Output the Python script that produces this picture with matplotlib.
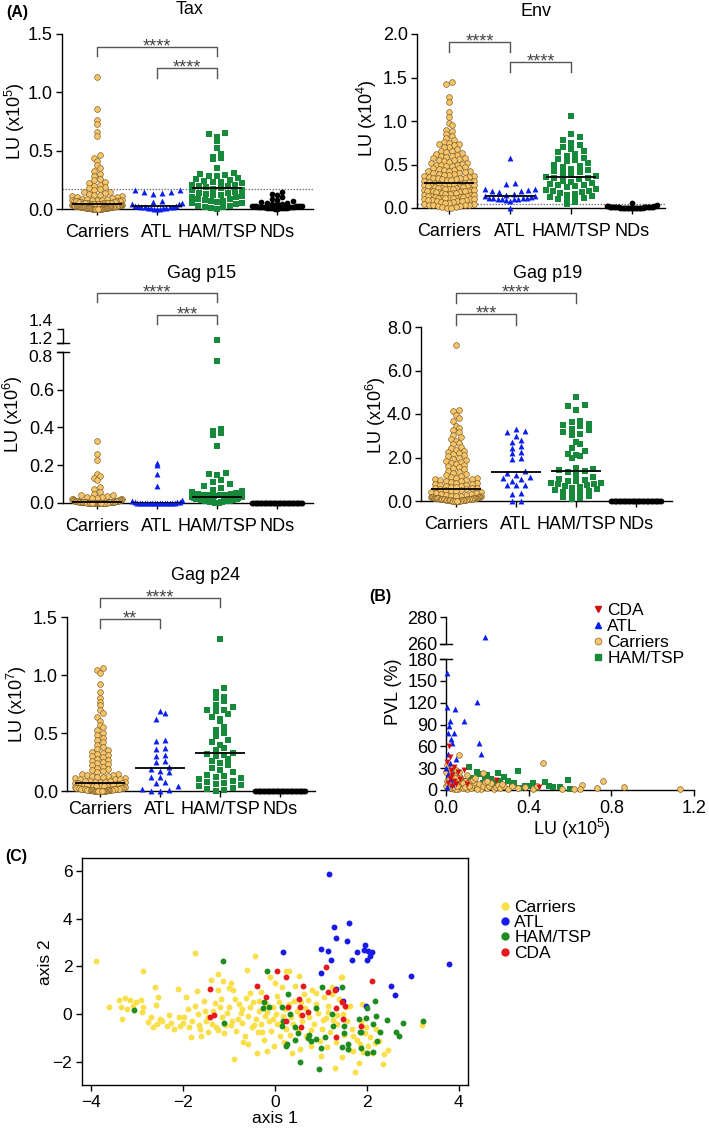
import numpy as np
import matplotlib
matplotlib.use('Agg')
import matplotlib.pyplot as plt
from matplotlib.transforms import Affine2D, blended_transform_factory
from matplotlib.lines import Line2D

W, H = 709, 1133
plt.rcParams['font.family'] = ['Liberation Sans', 'DejaVu Sans']
plt.rcParams['mathtext.fontset'] = 'custom'
plt.rcParams['mathtext.rm'] = 'Liberation Sans'
plt.rcParams['mathtext.it'] = 'Liberation Sans:italic'
plt.rcParams['axes.linewidth'] = 1.0
plt.rcParams['xtick.major.width'] = 1.0
plt.rcParams['ytick.major.width'] = 1.0
plt.rcParams['xtick.major.size'] = 4
plt.rcParams['ytick.major.size'] = 4

# ------------------------------------------------------------------ data
groups = ['Carriers', 'ATL', 'HAM/TSP', 'NDs']

tax_carriers = [1.13, 0.86, 0.76, 0.73, 0.66, 0.63, 0.46, 0.44, 0.41, 0.38, 0.35, 0.33, 0.30, 0.28, 0.26,
                0.25, 0.23, 0.22, 0.21, 0.20, 0.19, 0.18, 0.17, 0.16, 0.15, 0.15, 0.14, 0.13, 0.12, 0.12,
                0.11, 0.11, 0.10, 0.10, 0.095, 0.09, 0.09, 0.085, 0.08, 0.08, 0.08, 0.075, 0.075, 0.07,
                0.07, 0.07, 0.065, 0.065, 0.065, 0.06, 0.06, 0.06, 0.06, 0.055, 0.055, 0.055, 0.05, 0.05,
                0.05, 0.05, 0.05, 0.048, 0.046, 0.045, 0.044, 0.042, 0.04, 0.04, 0.04, 0.038, 0.037, 0.036,
                0.035, 0.035, 0.034, 0.033, 0.032, 0.031, 0.03, 0.03, 0.03, 0.029, 0.028, 0.027, 0.026,
                0.025, 0.025, 0.025, 0.024, 0.023, 0.022, 0.021, 0.02, 0.02, 0.02, 0.02, 0.019, 0.018,
                0.017, 0.016, 0.015, 0.015, 0.015, 0.014, 0.013, 0.012, 0.012, 0.011, 0.01, 0.01, 0.01,
                0.01, 0.009, 0.008, 0.008, 0.007, 0.006, 0.006, 0.005, 0.005, 0.005, 0.004, 0.004, 0.003,
                0.003, 0.002, 0.002, 0.002, 0.001, 0.001, 0.001, 0.0, 0.0, 0.0]
tax_atl = [0.16, 0.16, 0.15, 0.15, 0.14, 0.13, 0.07, 0.06, 0.05, 0.04, 0.04, 0.03, 0.03, 0.03, 0.02,
           0.02, 0.02, 0.02, 0.01, 0.01, 0.01, 0.01, 0.0, 0.0, 0.0]
tax_ham = [0.65, 0.64, 0.62, 0.58, 0.52, 0.47, 0.45, 0.44, 0.43, 0.35, 0.31, 0.30, 0.29, 0.28, 0.28,
           0.27, 0.26, 0.25, 0.24, 0.23, 0.23, 0.22, 0.21, 0.21, 0.20, 0.20, 0.19, 0.18, 0.17, 0.16,
           0.16, 0.15, 0.14, 0.14, 0.13, 0.12, 0.12, 0.11, 0.10, 0.10, 0.09, 0.09, 0.08, 0.07, 0.07,
           0.06, 0.05, 0.05, 0.04, 0.03, 0.03, 0.02, 0.02, 0.01, 0.0]
tax_nds = [0.15, 0.13, 0.12, 0.1, 0.09, 0.08, 0.07, 0.06, 0.05, 0.05, 0.04, 0.04, 0.04, 0.03, 0.03,
           0.03, 0.03, 0.03, 0.025, 0.025, 0.02, 0.02, 0.02, 0.02, 0.02, 0.02, 0.015, 0.015, 0.015,
           0.01, 0.01, 0.01, 0.01, 0.01, 0.01, 0.005, 0.005, 0.005, 0.0, 0.0]
tax_cutoff = 0.17

env_carriers = [1.45, 1.43, 1.28, 1.22, 1.1, 1.05, 0.98, 0.95, 0.9, 0.88, 0.85, 0.83, 0.8, 0.78, 0.76,
                0.75, 0.74, 0.73, 0.72, 0.7, 0.7, 0.68, 0.66, 0.65, 0.64, 0.63, 0.62, 0.61, 0.6, 0.6,
                0.59, 0.58, 0.57, 0.56, 0.55, 0.55, 0.54, 0.53, 0.52, 0.52, 0.51, 0.5, 0.5, 0.49, 0.48,
                0.48, 0.47, 0.46, 0.46, 0.45, 0.44, 0.44, 0.43, 0.42, 0.42, 0.41, 0.4, 0.4, 0.39, 0.39,
                0.38, 0.38, 0.37, 0.37, 0.36, 0.36, 0.35, 0.35, 0.34, 0.34, 0.33, 0.33, 0.32, 0.32, 0.31,
                0.31, 0.3, 0.3, 0.29, 0.29, 0.28, 0.28, 0.27, 0.27, 0.27, 0.26, 0.26, 0.26, 0.25, 0.25,
                0.25, 0.24, 0.24, 0.24, 0.23, 0.23, 0.23, 0.22, 0.22, 0.22, 0.21, 0.21, 0.21, 0.2, 0.2,
                0.2, 0.19, 0.19, 0.19, 0.18, 0.18, 0.18, 0.17, 0.17, 0.17, 0.16, 0.16, 0.16, 0.15, 0.15,
                0.15, 0.14, 0.14, 0.14, 0.13, 0.13, 0.13, 0.12, 0.12, 0.12, 0.11, 0.11, 0.11, 0.1, 0.1,
                0.1, 0.09, 0.09, 0.09, 0.08, 0.08, 0.08, 0.07, 0.07, 0.06, 0.06, 0.05, 0.05, 0.04, 0.04,
                0.03, 0.03, 0.02, 0.02, 0.01, 0.01, 0.0, 0.0]
env_atl = [0.58, 0.29, 0.28, 0.22, 0.22, 0.21, 0.2, 0.2, 0.18, 0.16, 0.15, 0.14, 0.14, 0.13, 0.12,
           0.12, 0.11, 0.11, 0.1, 0.1, 0.1, 0.1, 0.09, 0.08, 0.0]
env_ham = [1.06, 0.85, 0.82, 0.78, 0.75, 0.72, 0.7, 0.68, 0.66, 0.64, 0.62, 0.6, 0.58, 0.56, 0.55,
           0.54, 0.52, 0.5, 0.48, 0.47, 0.45, 0.44, 0.42, 0.41, 0.4, 0.38, 0.37, 0.36, 0.35, 0.34,
           0.33, 0.31, 0.3, 0.29, 0.28, 0.27, 0.26, 0.25, 0.24, 0.22, 0.21, 0.2, 0.19, 0.18, 0.17,
           0.16, 0.15, 0.14, 0.13, 0.12, 0.1, 0.09, 0.08, 0.07, 0.05]
env_nds = [0.06, 0.03, 0.025, 0.02, 0.02, 0.018, 0.016, 0.015, 0.014, 0.012, 0.012, 0.011, 0.01, 0.01,
           0.01, 0.009, 0.008, 0.008, 0.007, 0.007, 0.006, 0.006, 0.005, 0.005, 0.005, 0.004, 0.004,
           0.003, 0.003, 0.003, 0.002, 0.002, 0.002, 0.001, 0.001, 0.001, 0.0, 0.0, 0.0, 0.0]
env_cutoff = 0.046

p15_carriers = [0.33, 0.26, 0.23, 0.155, 0.145, 0.13, 0.12, 0.085, 0.075, 0.06, 0.05, 0.045, 0.04,
                0.035, 0.03, 0.03, 0.025, 0.025, 0.02, 0.02, 0.02, 0.02, 0.018, 0.016, 0.015, 0.015,
                0.014, 0.012, 0.012, 0.011, 0.01, 0.01, 0.01, 0.01, 0.009, 0.009, 0.008, 0.008, 0.008,
                0.007, 0.007, 0.007, 0.006, 0.006, 0.006, 0.006, 0.005, 0.005, 0.005, 0.005, 0.005,
                0.004, 0.004, 0.004, 0.004, 0.004, 0.003, 0.003, 0.003, 0.003, 0.003, 0.003, 0.002,
                0.002, 0.002, 0.002, 0.002, 0.002, 0.002, 0.001, 0.001, 0.001, 0.001, 0.001, 0.001,
                0.001, 0.001, 0, 0, 0, 0, 0, 0, 0, 0, 0, 0, 0, 0, 0]
p15_atl = [0.21, 0.2, 0.155, 0.09, 0.015, 0.012, 0.005, 0.004, 0.003, 0.002, 0.002, 0.001, 0.001,
           0.001, 0, 0, 0, 0, 0, 0, 0, 0, 0, 0, 0]
p15_ham = [1.25, 0.75, 0.39, 0.38, 0.37, 0.36, 0.3, 0.16, 0.155, 0.15, 0.12, 0.11, 0.1, 0.09, 0.08,
           0.07, 0.065, 0.06, 0.055, 0.05, 0.05, 0.045, 0.04, 0.04, 0.04, 0.035, 0.03, 0.03, 0.03,
           0.025, 0.025, 0.02, 0.02, 0.02, 0.02, 0.02, 0.018, 0.016, 0.015, 0.015, 0.012, 0.012,
           0.01, 0.01, 0.01, 0.008, 0.008, 0.006, 0.005, 0.005, 0.004, 0.003, 0.002, 0.001, 0.0]
p15_nds = [0, 0, 0, 0, 0, 0, 0, 0, 0, 0, 0, 0, 0, 0, 0, 0, 0, 0, 0, 0,
           0, 0, 0, 0, 0, 0, 0, 0, 0, 0, 0, 0, 0, 0, 0, 0, 0, 0, 0, 0]

p19_carriers = [7.15, 4.2, 4.15, 3.95, 3.8, 3.7, 3.45, 3.35, 3.25, 3.15, 3.05, 2.95, 2.85, 2.75, 2.65,
                2.6, 2.5, 2.45, 2.35, 2.3, 2.25, 2.2, 2.15, 2.1, 2.05, 2.0, 1.95, 1.9, 1.85, 1.8, 1.75,
                1.7, 1.65, 1.6, 1.55, 1.5, 1.45, 1.4, 1.35, 1.3, 1.25, 1.2, 1.15, 1.1, 1.08, 1.05, 1.02,
                1.0, 0.98, 0.95, 0.92, 0.9, 0.88, 0.85, 0.82, 0.8, 0.78, 0.75, 0.72, 0.7, 0.68, 0.66,
                0.64, 0.62, 0.6, 0.58, 0.56, 0.55, 0.52, 0.5, 0.48, 0.45, 0.42, 0.4, 0.38, 0.35, 0.33,
                0.3, 0.28, 0.26, 0.25, 0.24, 0.22, 0.21, 0.2, 0.2, 0.19, 0.18, 0.18, 0.17, 0.16, 0.16,
                0.15, 0.15, 0.14, 0.14, 0.13, 0.13, 0.12, 0.12, 0.12, 0.11, 0.11, 0.1, 0.1, 0.1, 0.09,
                0.09, 0.09, 0.08, 0.08, 0.08, 0.07, 0.07, 0.07, 0.06, 0.06, 0.06, 0.05, 0.05, 0.05,
                0.04, 0.04, 0.04, 0.03, 0.03, 0.03, 0.02, 0.02, 0.02, 0.01, 0.01, 0.01, 0.0, 0.0, 0.0]
p19_atl = [3.3, 3.2, 3.15, 3.0, 2.8, 2.7, 2.55, 2.45, 2.25, 2.2, 2.0, 1.95, 1.4, 1.3, 1.2, 1.1, 1.05,
           1.0, 0.9, 0.75, 0.75, 0.72, 0.35, 0.3, 0.0, 0.0]
p19_ham = [4.8, 4.4, 4.35, 4.2, 3.7, 3.65, 3.55, 3.5, 3.45, 3.3, 3.25, 3.15, 3.1, 3.05, 2.7, 2.6, 2.45,
           2.3, 2.15, 2.1, 2.05, 2.0, 1.5, 1.45, 1.42, 1.4, 1.35, 1.2, 1.1, 1.0, 0.95, 0.9, 0.9, 0.85,
           0.85, 0.8, 0.8, 0.75, 0.7, 0.65, 0.6, 0.55, 0.5, 0.45, 0.4, 0.35, 0.3, 0.25, 0.2, 0.15, 0.1]
p19_nds = [0, 0, 0, 0, 0, 0, 0, 0, 0, 0, 0, 0, 0, 0, 0, 0, 0, 0, 0, 0,
           0, 0, 0, 0, 0, 0, 0, 0, 0, 0, 0, 0, 0, 0, 0, 0, 0, 0, 0, 0]

p24_carriers = [1.06, 1.04, 1.02, 0.92, 0.85, 0.8, 0.77, 0.74, 0.7, 0.67, 0.64, 0.6, 0.57, 0.55, 0.53,
                0.5, 0.48, 0.46, 0.44, 0.42, 0.4, 0.38, 0.36, 0.35, 0.34, 0.33, 0.32, 0.31, 0.3, 0.29,
                0.28, 0.27, 0.26, 0.25, 0.24, 0.23, 0.22, 0.21, 0.2, 0.19, 0.18, 0.17, 0.16, 0.15, 0.15,
                0.14, 0.14, 0.13, 0.13, 0.12, 0.12, 0.11, 0.11, 0.1, 0.1, 0.1, 0.09, 0.09, 0.09, 0.08,
                0.08, 0.08, 0.075, 0.07, 0.07, 0.065, 0.06, 0.06, 0.06, 0.055, 0.05, 0.05, 0.05, 0.05,
                0.045, 0.045, 0.04, 0.04, 0.04, 0.04, 0.035, 0.035, 0.035, 0.03, 0.03, 0.03, 0.03, 0.03,
                0.025, 0.025, 0.025, 0.025, 0.02, 0.02, 0.02, 0.02, 0.02, 0.02, 0.015, 0.015, 0.015,
                0.015, 0.015, 0.01, 0.01, 0.01, 0.01, 0.01, 0.01, 0.01, 0.008, 0.008, 0.006, 0.006,
                0.005, 0.005, 0.004, 0.004, 0.003, 0.003, 0.002, 0.002, 0.001, 0.001, 0.0, 0.0, 0.0, 0.0]
p24_atl = [0.69, 0.67, 0.62, 0.44, 0.43, 0.37, 0.36, 0.31, 0.3, 0.26, 0.25, 0.21, 0.19, 0.17, 0.16,
           0.12, 0.12, 0.08, 0.07, 0.04, 0.02, 0.01, 0.0, 0.0]
p24_ham = [1.31, 0.89, 0.85, 0.81, 0.8, 0.78, 0.74, 0.72, 0.7, 0.7, 0.69, 0.66, 0.64, 0.62, 0.6, 0.55,
           0.53, 0.5, 0.47, 0.44, 0.42, 0.4, 0.37, 0.35, 0.33, 0.32, 0.31, 0.3, 0.28, 0.26, 0.24, 0.22,
           0.2, 0.18, 0.16, 0.14, 0.13, 0.12, 0.11, 0.1, 0.09, 0.08, 0.07, 0.06, 0.05, 0.04, 0.03,
           0.02, 0.01, 0.0]
p24_nds = [0, 0, 0, 0, 0, 0, 0, 0, 0, 0, 0, 0, 0, 0, 0, 0, 0, 0, 0, 0,
           0, 0, 0, 0, 0, 0, 0, 0, 0, 0, 0, 0, 0, 0, 0, 0, 0, 0, 0, 0]

# Panel B: (LU x1e5, PVL %)
b_cda = [(0.015, 60), (0.02, 45), (0.04, 32), (0.06, 25), (0.085, 27), (0.03, 21), (0.02, 16),
         (0.04, 12), (0.05, 8), (0.24, 14), (0.45, 4), (0.01, 10), (0.03, 5), (0.07, 15), (0.1, 8),
         (0.005, 38), (0.025, 28)]
b_atl = [(0.19, 265), (0.005, 161), (0.005, 114), (0.043, 111), (0.02, 95), (0.087, 95), (0.15, 121),
         (0.01, 78), (0.04, 78), (0.03, 64), (0.16, 64), (0.17, 50), (0.01, 50), (0.02, 37), (0.0, 30),
         (0.01, 22), (0.02, 15), (0.03, 8), (0.005, 4), (0.05, 42), (0.015, 88), (0.025, 70)]
b_carriers = [(0.47, 37), (0.065, 48), (0.18, 23), (0.76, 12), (0.86, 4), (1.13, 1), (0.66, 7),
              (0.65, 1.5), (0.73, 3), (0.62, 2), (0.0, 25), (0.005, 12), (0.01, 30), (0.01, 5),
              (0.015, 18), (0.02, 8), (0.02, 22), (0.025, 3), (0.03, 15), (0.03, 10), (0.035, 6),
              (0.04, 20), (0.04, 2), (0.045, 12), (0.05, 28), (0.05, 4), (0.055, 9), (0.06, 15),
              (0.06, 1), (0.07, 18), (0.07, 6), (0.075, 11), (0.08, 3), (0.085, 8), (0.09, 13),
              (0.1, 2), (0.1, 9), (0.11, 5), (0.12, 12), (0.12, 3), (0.13, 7), (0.14, 10), (0.15, 4),
              (0.16, 8), (0.17, 2), (0.18, 5), (0.19, 11), (0.2, 3), (0.21, 6), (0.22, 9), (0.23, 2),
              (0.24, 4), (0.25, 7), (0.26, 3), (0.28, 5), (0.3, 2), (0.32, 6), (0.35, 3), (0.38, 4),
              (0.42, 2), (0.0, 5), (0.01, 8), (0.02, 3), (0.03, 12), (0.04, 7), (0.05, 2), (0.06, 16),
              (0.08, 10), (0.09, 4), (0.11, 6), (0.13, 14), (0.15, 2), (0.005, 35), (0.015, 14),
              (0.025, 9), (0.035, 4), (0.045, 17), (0.055, 6), (0.065, 25), (0.1, 20), (0.14, 16),
              (0.2, 13), (0.27, 8), (0.44, 5), (0.56, 2)]
b_ham = [(0.11, 32), (0.25, 23), (0.35, 26), (0.48, 11), (0.59, 14), (0.52, 4), (0.40, 6), (0.2, 20),
         (0.22, 15), (0.28, 18), (0.3, 12), (0.15, 25), (0.18, 10), (0.12, 16), (0.1, 8), (0.08, 12),
         (0.06, 20), (0.05, 5), (0.04, 14), (0.14, 7), (0.16, 22), (0.24, 9), (0.26, 13), (0.32, 8),
         (0.38, 5), (0.42, 10), (0.44, 3), (0.5, 6), (0.55, 4), (0.6, 2), (0.02, 18), (0.03, 25),
         (0.07, 10), (0.09, 5), (0.13, 12), (0.19, 17), (0.21, 6), (0.27, 4), (0.33, 9), (0.36, 3)]

# Panel C: (axis 1, axis 2)
c_carriers = [(-3.89, 2.25), (-3.62, 0.29), (-3.40, 0.6), (-3.27, 0.67), (-3.15, 0.6), (-3.35, 0.29),
              (-3.33, -0.2), (-3.22, 0.22), (-3.02, 0.5), (-2.92, 0.6), (-2.88, 1.8), (-2.88, 0.29),
              (-2.76, -0.34), (-2.66, -0.55), (-2.61, 1.13), (-2.54, 0.74), (-2.56, -0.41),
              (-2.46, -0.29), (-2.36, -0.48), (-2.27, -0.38), (-2.12, 1.06), (-2.09, -0.13),
              (-2.07, -0.48), (-1.97, -0.13), (-1.94, 0.71), (-1.87, -0.55), (-1.82, -0.94),
              (-1.75, 2.56), (-1.70, 0.97), (-1.67, 0.01), (-1.63, -0.62), (-1.60, -0.9), (-1.53, 0.15),
              (-1.50, -0.27), (-1.46, -0.76), (-1.40, 1.44), (-1.38, -0.41), (-1.30, 0.46),
              (-1.24, 1.69), (-1.23, 1.02), (-1.23, -0.66), (-1.18, 0.64), (-1.16, -0.1), (-1.13, 1.41),
              (-1.08, -0.43), (-1.0, 0.29), (-0.96, 1.3), (-0.94, -0.27), (-0.91, 1.02), (-0.89, -1.87),
              (-0.84, -0.69), (-0.79, 0.43), (-0.74, 0.04), (-0.71, -0.38), (-0.69, -1.17),
              (-0.64, 0.67), (-0.61, 1.86), (-0.59, -0.06), (-0.59, -1.24), (-0.54, 0.29),
              (-0.51, -0.55), (-0.47, 0.5), (-0.44, 2.42), (-0.41, -0.2), (-0.39, -1.64), (-0.37, -0.76),
              (-0.34, 0.15), (-0.31, 0.92), (-0.30, -0.41), (-0.25, -1.08), (-0.22, -0.06), (-0.20, 0.43),
              (-0.17, -1.52), (-0.12, -0.27), (-0.10, 1.55), (-0.08, -0.69), (-0.05, 0.29), (-0.02, -1.31),
              (0.02, 0.01), (0.05, -0.41), (0.08, 0.5), (0.10, -0.9), (0.15, 1.13), (0.18, -0.06),
              (0.20, -1.17), (0.25, 1.83), (0.25, -0.62), (0.30, 0.43), (0.34, -0.13), (0.37, -1.64),
              (0.39, -0.41), (0.44, 1.2), (0.47, 0.15), (0.49, -0.69), (0.52, 1.62), (0.54, -1.45),
              (0.57, 0.5), (0.59, -0.27), (0.64, 0.85), (0.67, -0.9), (0.72, 0.6), (0.75, -0.13),
              (0.79, -1.31), (0.81, 1.02), (0.84, -0.41), (0.89, 0.43), (0.94, 0.04), (0.97, -1.1),
              (1.0, -1.73), (1.03, -0.62), (1.06, 0.71), (1.10, -0.15), (1.13, -1.38), (1.16, 0.36),
              (1.20, -0.76), (1.23, 0.85), (1.26, -0.24), (1.30, -2.25), (1.33, -1.17), (1.36, -0.41),
              (1.40, 0.64), (1.43, 1.55), (1.45, -1.8), (1.48, 0.01), (1.51, -0.85), (1.56, -0.27),
              (1.60, -1.48), (1.63, 0.36), (1.67, -0.62), (1.70, -1.55), (1.75, -2.43), (1.79, -1.08),
              (1.82, -2.06), (1.85, -1.24), (1.87, -0.27), (1.90, 0.43), (1.92, -1.59), (1.97, -0.55),
              (2.02, -1.31), (2.07, -0.97), (2.17, -1.22), (2.27, -1.1), (2.34, -2.08), (2.38, -1.66),
              (3.20, -0.43), (1.23, 1.16), (1.45, 1.58), (0.30, 1.83),
              (-2.9, 0.1), (-2.7, -0.1), (-2.5, -0.2), (-2.3, -0.05), (-2.2, -0.6), (-2.0, -0.35),
              (-1.9, 0.2), (-1.8, -0.3), (-1.75, 0.35), (-1.65, -0.45), (-1.55, 0.55), (-1.45, -0.1),
              (-1.35, 0.15), (-1.28, -0.55), (-1.2, 0.3), (-1.1, -0.8), (-1.05, 0.05), (-0.95, -0.45),
              (-0.88, 0.65), (-0.8, -0.2), (-0.72, 0.2), (-0.65, -0.9), (-0.55, 0.9), (-0.45, -0.45),
              (-0.35, 0.55), (-0.28, -0.75), (-0.18, 0.1), (-0.05, -0.2), (0.05, 0.75), (0.12, -0.35),
              (0.22, 0.2), (0.32, -0.85), (0.42, 0.55), (0.55, -0.05), (0.65, 0.25), (0.78, -0.65),
              (0.9, 0.9), (1.05, -0.25), (1.15, 0.1), (1.35, -0.05), (1.55, 0.3), (1.7, -0.9),
              (1.95, -0.8), (2.1, -1.6), (2.2, -0.6), (2.45, -1.5), (-2.6, 0.4), (-3.1, 0.35),
              (-1.0, 1.1), (0.0, 1.3)]
c_atl = [(1.18, 5.86), (1.28, 3.65), (1.61, 3.83), (1.33, 3.2), (1.56, 3.05), (1.0, 2.73), (1.16, 2.64),
         (1.95, 2.91), (1.94, 2.67), (1.79, 2.6), (2.02, 2.64), (2.12, 2.6), (2.07, 2.45), (2.0, 2.28),
         (1.67, 2.29), (1.21, 2.27), (0.18, 2.62), (1.01, 1.72), (3.79, 2.11), (2.96, 1.62), (2.53, 1.2),
         (2.61, 0.81), (1.33, 1.06), (1.48, 0.55), (1.97, 0.36)]
c_ham = [(-1.13, 2.25), (-0.17, 1.8), (-3.07, 0.18), (-1.10, -0.35), (1.02, 1.16), (1.45, 1.16),
         (0.29, 0.85), (-0.24, 0.5), (-0.13, 0.29), (-0.27, 0.25), (0.15, 0.32), (0.33, 0.01), (0.89, 0.27),
         (1.23, 0.01), (2.0, 0.25), (2.17, 0.55), (1.82, -0.2), (2.19, -0.06), (1.99, -0.15), (2.43, -0.24),
         (2.79, -0.38), (3.21, -0.29), (0.15, -0.48), (0.44, -0.52), (0.18, -0.27), (1.26, -0.48),
         (1.50, -0.48), (1.87, -0.76), (1.84, -0.76), (2.14, -0.41), (2.28, -0.76), (2.64, -0.76),
         (2.69, -0.9), (0.51, -0.8), (0.74, -0.85), (0.89, -1.03), (0.79, -1.13), (1.08, -0.97),
         (1.50, -0.8), (1.58, -1.24), (0.27, -1.24), (0.25, -1.31), (0.44, -1.08), (1.0, -1.41),
         (1.58, -1.45), (1.87, -1.41), (2.14, -1.57), (2.0, -1.64), (2.22, -1.13), (0.54, -1.99),
         (0.96, -2.27), (0.72, -0.99), (1.46, -1.36)]
c_cda = [(1.11, 1.99), (0.05, 1.83), (0.23, 1.58), (-0.40, 1.2), (-1.42, 1.06), (0.61, 1.19), (-0.20, 0.71),
         (1.31, 1.02), (1.16, 0.92), (2.11, 1.41), (0.52, 0.64), (1.33, 0.27), (1.53, 0.36), (0.28, 0.29),
         (0.54, 0.29), (0.72, 0.11), (0.59, -0.01), (-1.33, -0.01), (-1.41, -0.13), (1.48, -0.2),
         (0.23, -0.29), (0.57, -0.55), (1.87, -0.48), (1.33, -0.97), (1.46, 0.5)]

# ------------------------------------------------------------------ styles
C_CAR = '#F6C56B'
C_CAR_E = '#86652A'
C_ATL = '#0A1EF0'
C_HAM = '#16893A'
st_car = dict(marker='o', s=17, facecolor=C_CAR, edgecolor=C_CAR_E, linewidths=0.5)
st_atl = dict(marker='^', s=18, color=C_ATL, linewidths=0)
st_ham = dict(marker='s', s=15, color=C_HAM, linewidths=0)
st_nds = dict(marker='o', s=17, color='black', linewidths=0)
styles = [st_car, st_atl, st_ham, st_nds]
# swarm packing per group: (row height px, max horizontal step px)
packing = [(4.6, 5.2), (6.5, 9.0), (6.5, 8.5), (4.6, 5.2)]

fig = plt.figure(figsize=(W / 100, H / 100), dpi=100)
PX = Affine2D().scale(1, -1).translate(0, H)   # pixel (from top) -> display


def add_ax(l, t, r, b):
    return fig.add_axes([l / W, 1 - b / H, (r - l) / W, (b - t) / H])


def ftext(x, y, s, **kw):
    fig.text(x / W, 1 - y / H, s, **kw)


def swarm_x(ax, pos, vals, d=4.6, stepmax=5.2, halfw=25.0):
    bb = ax.get_position()
    y0, y1 = ax.get_ylim()
    x0, x1 = ax.get_xlim()
    ppy = bb.height * H / (y1 - y0)
    ppx = bb.width * W / (x1 - x0)
    v = np.asarray(vals, float)
    bins = np.floor((v - y0) * ppy / d).astype(int)
    xs = np.full(len(v), float(pos))
    for b in np.unique(bins):
        idx = np.where(bins == b)[0]
        idx = idx[np.argsort(v[idx], kind='stable')]
        n = len(idx)
        if n > 1:
            step = min(stepmax, 2 * halfw / (n - 1))
            offs = (np.arange(n) - (n - 1) / 2) * step
            offs = offs[np.argsort(np.abs(offs), kind='stable')]
            xs[idx] = pos + offs / ppx
    return xs


def cat_axes(l, t, r, b, ylim, yticks, first, spacing, pad=7):
    ax = add_ax(l, t, r, b)
    ax.set_ylim(*ylim)
    ax.set_xlim(-(first - l) / spacing, (r - first) / spacing)
    for s in ('top', 'right'):
        ax.spines[s].set_visible(False)
    ax.set_xticks(range(4))
    ax.set_xticklabels(groups, fontsize=13)
    ax.set_yticks(yticks)
    ax.set_yticklabels([f'{v:.1f}' for v in yticks], fontsize=13)
    ax.tick_params(axis='y', pad=2.5, length=4)
    ax.tick_params(axis='x', pad=pad, length=4)
    return ax


def dots(ax, data, half=0.41, upper=None, split=None):
    for i, (vals, st, pk) in enumerate(zip(data, styles, packing)):
        vals = np.asarray(vals, float)
        low = vals if split is None else vals[vals <= split]
        xs = swarm_x(ax, i, low, *pk)
        ax.scatter(xs, low, clip_on=False, zorder=3, **st)
        if upper is not None:
            hi = vals[vals > split]
            if len(hi):
                upper.scatter(swarm_x(upper, i, hi, *pk), hi, clip_on=False, zorder=3, **st)
        ax.hlines(np.median(vals), i - half, i + half, color='black', lw=1.3, zorder=4)


def bracket(ax, i, j, yline, ylegs, stars):
    tr = blended_transform_factory(ax.transData, PX)
    ax.plot([i, i, j, j], [ylegs, yline, yline, ylegs], transform=tr, color='#555555',
            lw=1.0, clip_on=False)
    ax.text((i + j) / 2, yline + 4.5, stars, transform=tr, ha='center', va='baseline',
            fontsize=13, color='#444444', clip_on=False)


def break_mark(ax, yval):
    tr = blended_transform_factory(ax.transAxes, ax.transData)
    w = ax.get_position().width * W
    ax.plot([-5.6 / w, 6.0 / w], [yval, yval], transform=tr, color='black', lw=1.0, clip_on=False)


# ------------------------------------------------------------------ Tax
ax = cat_axes(62, 34, 313, 209, (0, 1.5), [0, 0.5, 1.0, 1.5], 97, 60)
dots(ax, [tax_carriers, tax_atl, tax_ham, tax_nds])
ax.axhline(tax_cutoff, color='#777777', lw=0.9, ls=(0, (1.2, 1.2)), zorder=2)
bracket(ax, 0, 2, 47, 56, '****')
bracket(ax, 1, 2, 68, 78, '****')
ftext(190, 10, 'Tax', fontsize=13, ha='center', va='center')
ftext(15, 121, 'LU (x10$^{5}$)', fontsize=13, rotation=90, ha='center', va='center')

# ------------------------------------------------------------------ Env
ax = cat_axes(417, 34, 665, 208, (0, 2.0), [0, 0.5, 1.0, 1.5, 2.0], 449, 61)
dots(ax, [env_carriers, env_atl, env_ham, env_nds])
ax.axhline(env_cutoff, color='#777777', lw=0.9, ls=(0, (1.2, 1.2)), zorder=2)
bracket(ax, 0, 1, 42, 52, '****')
bracket(ax, 1, 2, 62, 72, '****')
ftext(536, 11, 'Env', fontsize=13, ha='center', va='center')
ftext(367, 118, 'LU (x10$^{4}$)', fontsize=13, rotation=90, ha='center', va='center')

# ------------------------------------------------------------------ Gag p15 (broken axis)
ax = cat_axes(63, 352, 313, 503, (0, 0.8), [0, 0.2, 0.4, 0.6, 0.8], 97, 60)
ax.set_yticklabels(['0.0', '0.2', '0.4', '0.6', ''], fontsize=13)
axu = add_ax(63, 329, 313, 343)
axu.set_ylim(1.2, 1.4)
axu.set_xlim(ax.get_xlim())
for s in ('top', 'right', 'bottom'):
    axu.spines[s].set_visible(False)
axu.set_xticks([])
axu.set_yticks([1.2, 1.4])
axu.set_yticklabels(['', ''])
axu.tick_params(axis='y', pad=2.5, length=4)
axu.patch.set_alpha(0)
for lab, ypx in (('1.4', 321), ('1.2', 339.5), ('0.8', 358)):
    ftext(52.5, ypx, lab, fontsize=12.5, ha='right', va='center')
dots(ax, [p15_carriers, p15_atl, p15_ham, p15_nds], upper=axu, split=1.0)
break_mark(ax, 0.8)
break_mark(axu, 1.2)
bracket(ax, 0, 2, 293, 302, '****')
bracket(ax, 1, 2, 315, 324, '***')
ftext(202, 273, 'Gag p15', fontsize=13, ha='center', va='center')
ftext(13, 414, 'LU (x10$^{6}$)', fontsize=13, rotation=90, ha='center', va='center')

# ------------------------------------------------------------------ Gag p19
ax = cat_axes(421, 327, 672, 501, (0, 8.0), [0, 2, 4, 6, 8], 456, 60)
dots(ax, [p19_carriers, p19_atl, p19_ham, p19_nds])
bracket(ax, 0, 2, 293, 303, '****')
bracket(ax, 0, 1, 314, 325, '***')
ftext(548, 273, 'Gag p19', fontsize=13, ha='center', va='center')
ftext(376, 415, 'LU (x10$^{6}$)', fontsize=13, rotation=90, ha='center', va='center')

# ------------------------------------------------------------------ Gag p24
ax = cat_axes(67, 617, 315, 791, (0, 1.5), [0, 0.5, 1.0, 1.5], 100, 60, pad=3)
dots(ax, [p24_carriers, p24_atl, p24_ham, p24_nds])
bracket(ax, 0, 2, 598, 607, '****')
bracket(ax, 0, 1, 619, 628, '**')
ftext(206, 575, 'Gag p24', fontsize=13, ha='center', va='center')
ftext(17, 704, 'LU (x10$^{7}$)', fontsize=13, rotation=90, ha='center', va='center')

# ------------------------------------------------------------------ Panel B
axb = add_ax(446, 659, 694, 790)
axb.set_xlim(0, 1.2)
axb.set_ylim(0, 180)
for s in ('top', 'right'):
    axb.spines[s].set_visible(False)
axb.set_xticks([0, 0.4, 0.8, 1.2])
axb.set_xticklabels(['0.0', '0.4', '0.8', '1.2'], fontsize=13)
axb.set_yticks(range(0, 181, 30))
axb.set_yticklabels([str(v) for v in range(0, 181, 30)], fontsize=13)
axb.tick_params(axis='y', pad=2, length=4)
axb.tick_params(axis='x', pad=3, length=4)
axbu = add_ax(446, 617, 694, 644)
axbu.set_xlim(0, 1.2)
axbu.set_ylim(260, 280)
for s in ('top', 'right', 'bottom'):
    axbu.spines[s].set_visible(False)
axbu.set_xticks([])
axbu.set_yticks([260, 280])
axbu.set_yticklabels(['260', '280'], fontsize=13)
axbu.tick_params(axis='y', pad=2, length=4)
axbu.patch.set_alpha(0)
break_mark(axb, 180)
break_mark(axbu, 260)

bstyles = [(b_ham, dict(marker='s', s=15, color=C_HAM, linewidths=0)),
           (b_carriers, dict(marker='o', s=17, facecolor=C_CAR, edgecolor=C_CAR_E, linewidths=0.5)),
           (b_atl, dict(marker='^', s=18, color=C_ATL, linewidths=0)),
           (b_cda, dict(marker='v', s=18, color='#D21010', linewidths=0))]
for pts, st in bstyles:
    p = np.asarray(pts, float)
    lo = p[p[:, 1] <= 200]
    hi = p[p[:, 1] > 200]
    axb.scatter(lo[:, 0], lo[:, 1], clip_on=False, zorder=3, **st)
    if len(hi):
        axbu.scatter(hi[:, 0], hi[:, 1], clip_on=False, zorder=3, **st)
ftext(572, 829, 'LU (x10$^{5}$)', fontsize=13, ha='center', va='center')
ftext(394, 692, 'PVL (%)', fontsize=13, rotation=90, ha='center', va='center')
bh = [Line2D([], [], ls='none', marker='v', ms=5, color='#D21010'),
      Line2D([], [], ls='none', marker='^', ms=5, color=C_ATL),
      Line2D([], [], ls='none', marker='o', ms=5, markerfacecolor=C_CAR, markeredgecolor=C_CAR_E,
             markeredgewidth=0.5),
      Line2D([], [], ls='none', marker='s', ms=4.5, color=C_HAM)]
fig.legend(bh, ['CDA', 'ATL', 'Carriers', 'HAM/TSP'], loc='upper left',
           bbox_to_anchor=(593.5 / W, 1 - 603 / H), frameon=False, fontsize=12.5,
           handlelength=0.5, handletextpad=0.3, labelspacing=0.05, borderpad=0, borderaxespad=0)

# ------------------------------------------------------------------ Panel C
axc = add_ax(82, 858, 468, 1085)
axc.set_xlim(-4.2, 4.2)
axc.set_ylim(-2.96, 6.54)
axc.set_xticks([-4, -2, 0, 2, 4])
axc.set_yticks([-2, 0, 2, 4, 6])
axc.tick_params(labelsize=12.5, length=4, pad=3)
cstyles = [(c_carriers, '#F9E04B', 'Carriers'), (c_atl, '#1A1AE6', 'ATL'),
           (c_ham, '#1E8C1E', 'HAM/TSP'), (c_cda, '#E8191A', 'CDA')]
for pts, col, lab in cstyles:
    p = np.asarray(pts, float)
    axc.scatter(p[:, 0], p[:, 1], s=18, color=col, linewidths=0, label=lab, zorder=3)
axc.set_xlabel('axis 1', fontsize=12.5, labelpad=1)
ftext(45, 962, 'axis 2', fontsize=12.5, rotation=90, ha='center', va='center')
ch = [Line2D([], [], ls='none', marker='o', ms=5, color=c) for _, c, _ in cstyles]
fig.legend(ch, [lab for _, _, lab in cstyles], loc='upper left',
           bbox_to_anchor=(500.5 / W, 1 - 900 / H), frameon=False, fontsize=12.5,
           handlelength=0.5, handletextpad=0.3, labelspacing=0.0, borderpad=0, borderaxespad=0)

# ------------------------------------------------------------------ panel letters
ftext(17, 13, '(A)', fontsize=11.5, fontweight='bold', ha='center', va='center')
ftext(380, 596, '(B)', fontsize=11.5, fontweight='bold', ha='center', va='center')
ftext(16, 857, '(C)', fontsize=11.5, fontweight='bold', ha='center', va='center')

fig.savefig('out.png', dpi=100)
